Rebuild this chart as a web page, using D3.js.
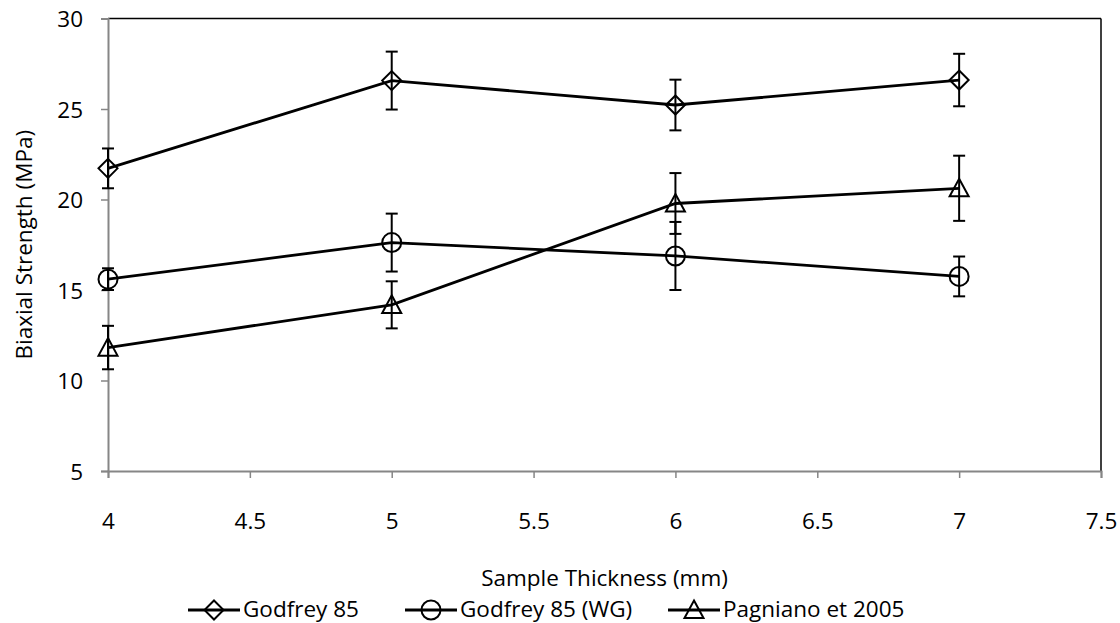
<!DOCTYPE html>
<html><head><meta charset="utf-8">
<script src="https://d3js.org/d3.v7.min.js"></script>
<style>body{margin:0;background:#fff;} text{font-family:"Open Sans", sans-serif;}</style>
</head><body>
<svg id="c" width="1120" height="623"></svg>
<script>
const thickness = [4, 5, 6, 7];
const seriesNames = ["Godfrey 85", "Godfrey 85 (WG)", "Pagniano et 2005"];
const godfrey = [21.72, 26.57, 25.22, 26.6];
const godfreyErr = [1.1, 1.6, 1.4, 1.45];
const godfreyWG = [15.6, 17.62, 16.88, 15.75];
const godfreyWGErr = [0.6, 1.6, 1.88, 1.1];
const pagniano = [11.82, 14.18, 19.78, 20.62];
const pagnianoErr = [1.2, 1.3, 1.68, 1.8];
const xTicks = [4, 4.5, 5, 5.5, 6, 6.5, 7, 7.5];
const yTicks = [5, 10, 15, 20, 25, 30];
const markers = ["diamond", "circle", "triangle"];

(function () {
const svg = d3.select("#c");
const pl = 108, pr = 1101, pt = 18.5, pb = 471;
const x = d3.scaleLinear().domain([4, 7.5]).range([pl, pr]);
const y = d3.scaleLinear().domain([5, 30]).range([pb, pt]);
const fs = 22.5;
const ff = "'Open Sans', sans-serif";

svg.append("line").attr("x1", pl).attr("x2", pr).attr("y1", pt).attr("y2", pt).attr("stroke", "#000").attr("stroke-width", 1.5);
svg.append("line").attr("x1", pr).attr("x2", pr).attr("y1", pt).attr("y2", pb).attr("stroke", "#000").attr("stroke-width", 1.5);

const gx = svg.append("g").attr("transform", `translate(0,${pb})`)
  .call(d3.axisBottom(x).tickValues(xTicks).tickSize(7).tickFormat(d3.format("")));
const gy = svg.append("g").attr("transform", `translate(${pl},0)`)
  .call(d3.axisLeft(y).tickValues(yTicks).tickSize(7));
[gx, gy].forEach(g => {
  g.select(".domain").attr("stroke", "#868686").attr("stroke-width", 2);
  g.selectAll(".tick line").attr("stroke", "#868686").attr("stroke-width", 1.5);
  g.selectAll(".tick text").attr("fill", "#000").style("font-size", fs + "px").style("font-family", ff);
});
gx.selectAll(".tick text").attr("y", 58).attr("dy", 0);
gy.selectAll(".tick text").attr("x", -25).attr("dy", "0.36em");

svg.append("text").attr("x", (pl + pr) / 2).attr("y", 586).attr("text-anchor", "middle")
  .style("font-size", fs + "px").text("Sample Thickness (mm)");
svg.append("text").attr("transform", `translate(32,${(pt + pb) / 2}) rotate(-90)`).attr("text-anchor", "middle")
  .style("font-size", fs + "px").text("Biaxial Strength (MPa)");

function marker(g, type, cx, cy) {
  const s = 9.5;
  if (type === "diamond") {
    g.append("path").attr("d", `M${cx},${cy - s}L${cx + s},${cy}L${cx},${cy + s}L${cx - s},${cy}Z`);
  } else if (type === "circle") {
    g.append("circle").attr("cx", cx).attr("cy", cy).attr("r", s);
  } else {
    g.append("path").attr("d", `M${cx},${cy - s}L${cx + s},${cy + s * 0.85}L${cx - s},${cy + s * 0.85}Z`);
  }
}

const allSeries = [
  {vals: godfrey, err: godfreyErr},
  {vals: godfreyWG, err: godfreyWGErr},
  {vals: pagniano, err: pagnianoErr}
];
const line = d3.line().x((d, i) => x(thickness[i])).y(d => y(d));

allSeries.forEach((s, si) => {
  const g = svg.append("g");
  g.append("path").datum(s.vals).attr("d", line).attr("fill", "none").attr("stroke", "#000").attr("stroke-width", 2.8);
  s.vals.forEach((v, i) => {
    const cx = x(thickness[i]);
    const y1 = y(v + s.err[i]), y2 = y(v - s.err[i]);
    g.append("line").attr("x1", cx).attr("x2", cx).attr("y1", y1).attr("y2", y2).attr("stroke", "#000").attr("stroke-width", 2);
    [y1, y2].forEach(yy => g.append("line").attr("x1", cx - 6).attr("x2", cx + 6).attr("y1", yy).attr("y2", yy).attr("stroke", "#000").attr("stroke-width", 2));
    const mg = g.append("g").attr("fill", "none").attr("stroke", "#000").attr("stroke-width", 2);
    marker(mg, markers[si], cx, y(v));
  });
});

const legX = [188, 405, 668];
const legY = 610;
seriesNames.forEach((n, i) => {
  const g = svg.append("g");
  g.append("line").attr("x1", legX[i]).attr("x2", legX[i] + 52).attr("y1", legY).attr("y2", legY).attr("stroke", "#000").attr("stroke-width", 2.8);
  const mg = g.append("g").attr("fill", "none").attr("stroke", "#000").attr("stroke-width", 2);
  marker(mg, markers[i], legX[i] + 26, legY);
  g.append("text").attr("x", legX[i] + 55).attr("y", legY + 7).style("font-size", fs + "px").text(n);
});
})();
</script>
</body></html>
